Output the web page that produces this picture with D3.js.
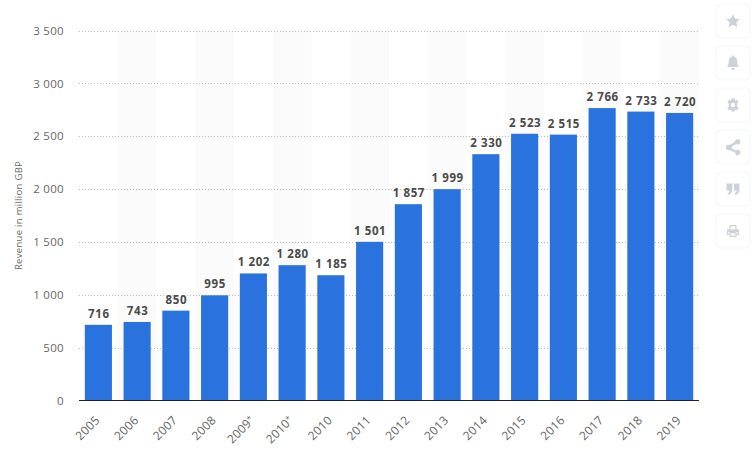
<!DOCTYPE html>
<html><head><meta charset="utf-8">
<script src="https://cdn.jsdelivr.net/npm/d3@7"></script>
<style>
html,body{margin:0;padding:0;background:#fff;width:755px;height:451px;overflow:hidden}
text{font-family:"Open Sans",sans-serif}
</style></head><body>
<svg id="c" width="755" height="451"></svg>
<script>
const categories=["2005","2006","2007","2008","2009*","2010*","2010","2011","2012","2013","2014","2015","2016","2017","2018","2019"];
const revenue=[716,743,850,995,1202,1280,1185,1501,1857,1999,2330,2523,2515,2766,2733,2720];
const yTicks=[0,500,1000,1500,2000,2500,3000,3500];
const yTitle="Revenue in million GBP";
const fmt=v=>String(v).replace(/\B(?=(\d{3})+$)/g," ");
const svg=d3.select("#c");
const x=d3.scaleBand().domain(categories).range([79,699]).paddingInner(0.3).paddingOuter(0.15);
const y=d3.scaleLinear().domain([0,3500]).range([400.5,30.5]);
const step=x.step();
// stripes
svg.append("g").selectAll("rect").data(categories.filter((d,i)=>i%2==1)).join("rect")
 .attr("x",d=>x(d)+x.bandwidth()/2-step/2).attr("width",step).attr("y",31).attr("height",369).attr("fill","#fbfbfb");
// grid
svg.append("g").selectAll("line").data(yTicks.filter(d=>d>0)).join("line")
 .attr("x1",79).attr("x2",699).attr("y1",d=>Math.round(y(d))+.5).attr("y2",d=>Math.round(y(d))+.5)
 .attr("stroke","#bbbbbb").attr("stroke-width",1).attr("stroke-dasharray","1 2");
// y axis
const ya=svg.append("g").attr("transform","translate(64,0)").call(d3.axisLeft(y).tickValues(yTicks).tickFormat(fmt).tickSize(0).tickPadding(0));
ya.select(".domain").remove();
ya.selectAll("text").attr("font-size",11.5).attr("fill","#666").attr("font-family",'"Open Sans",sans-serif').attr("letter-spacing",.3);
svg.append("text").attr("transform","translate(22,215.5) rotate(-90)").attr("text-anchor","middle").attr("font-size",9.5).attr("fill","#666").attr("letter-spacing",.3).text(yTitle);
// bars
svg.append("g").selectAll("rect").data(categories).join("rect")
 .attr("x",d=>x(d)).attr("width",x.bandwidth())
 .attr("y",(d,i)=>y(revenue[i])).attr("height",(d,i)=>400.5-y(revenue[i])).attr("fill","#2a72dd");
// labels
svg.append("g").selectAll("text").data(categories).join("text")
 .attr("x",d=>x(d)+x.bandwidth()/2+.5).attr("y",(d,i)=>y(revenue[i])-7).attr("text-anchor","middle")
 .attr("font-size",11.5).attr("font-weight",700).attr("fill","#4a4a4a").attr("letter-spacing",.6)
 .text((d,i)=>fmt(revenue[i]));
// x axis
const xa=svg.append("g").attr("transform","translate(0,400)").call(d3.axisBottom(x).tickSize(0).tickPadding(0));
xa.select(".domain").attr("stroke","#222").attr("stroke-width",1.2).attr("d","M79,0.5H699");
xa.selectAll("text").attr("font-size",12).attr("fill","#666").attr("font-family",'"Open Sans",sans-serif')
 .attr("text-anchor","end").attr("dy",0).attr("y",0).attr("letter-spacing",.2)
 .attr("transform","translate(2,21) rotate(-45)");
xa.selectAll("text").each(function(d){
  if(d.endsWith("*")){
    const t=d3.select(this); t.text(d.slice(0,-1));
    t.append("tspan").attr("font-size",8).attr("dy",-3).text("*");
  }
});
// side buttons
const icons=[
 "M0,-7 L2.1,-2.2 L7,-2 L3.3,1.3 L4.5,6.5 L0,3.8 L-4.5,6.5 L-3.3,1.3 L-7,-2 L-2.1,-2.2Z",
 "M-6,4 C-4,2 -4.5,-1 -4,-3 C-3.5,-5.5 -1.5,-6 -1,-6.5 C-1,-8 1,-8 1,-6.5 C1.5,-6 3.5,-5.5 4,-3 C4.5,-1 4,2 6,4Z M-2,5 H2 C2,7.5 -2,7.5 -2,5Z",
 "M-1.5,-6.5H1.5L2,-4.5L4,-5.3L5.6,-3L4.2,-1.5V1.5L5.6,3L4,5.3L2,4.5L1.5,6.5H-1.5L-2,4.5L-4,5.3L-5.6,3L-4.2,1.5V-1.5L-5.6,-3L-4,-5.3L-2,-4.5ZM0,-2.2A2.2,2.2 0 1,0 0,2.2A2.2,2.2 0 1,0 0,-2.2Z",
 "M-3.5,-2 A2.7,2.7 0 1,0 -3.5,3 L2,5.6 A2.7,2.7 0 1,0 3,3.4 L-1.2,1.3 V-0.6 L3,-3 A2.7,2.7 0 1,0 2,-5 Z",
 "M-6.5,-5.5H-0.7V0.5C-0.7,3.5 -2.5,5.5 -5,6L-5.6,4.3C-4.3,3.9 -3.6,3 -3.5,1.5H-6.5Z M0.9,-5.5H6.5V0.5C6.5,3.5 4.7,5.5 2.2,6L1.6,4.3C2.9,3.9 3.6,3 3.7,1.5H0.9Z",
 "M-3.5,-6H3.5V-1.5H6V4H3.5V6H-3.5V4H-6V-1.5H-3.5Z M-2.3,-4.8V-1.5H2.3V-4.8Z M-4.8,1V2.8H-3.5V1H3.5V2.8H4.8V1Z M-2.3,2.2V4.8H2.3V2.2Z"
];
const btn=svg.append("g").selectAll("g").data(icons).join("g")
 .attr("transform",(d,i)=>`translate(733,${21+i*42})`);
btn.append("rect").attr("x",-17).attr("y",-17).attr("width",34).attr("height",34).attr("rx",5)
 .attr("fill","#fff").attr("stroke","#f6f7f8").attr("stroke-width",1.2);
btn.append("path").attr("d",d=>d).attr("fill","#ccd1da").attr("fill-rule","evenodd");
</script>
</body></html>
